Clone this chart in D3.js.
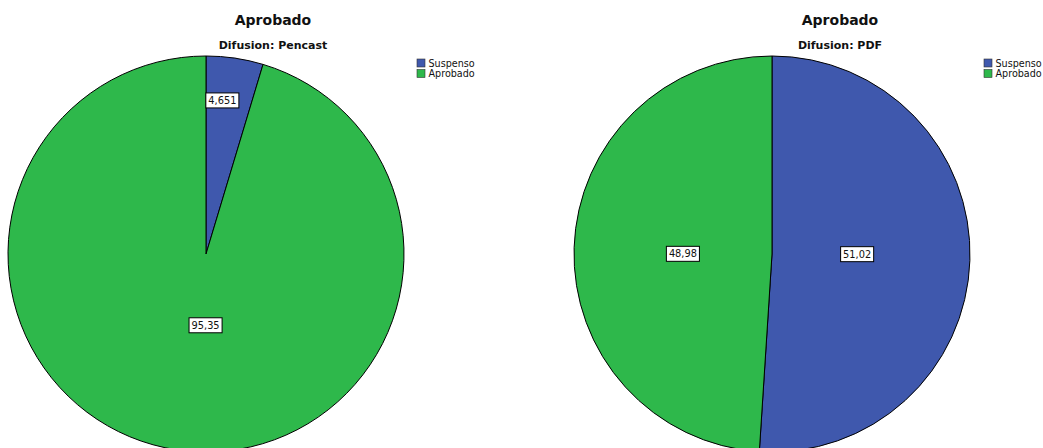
<!DOCTYPE html>
<html lang="es">
<head>
    <meta charset="UTF-8">
    <title>Aprobado por Difusion</title>
    <script src="https://d3js.org/d3.v7.min.js"></script>
    <style>
        body { margin: 0; background: #fff; font-family: "DejaVu Sans", sans-serif; }
    </style>
</head>
<body>
    <svg id="chart"></svg>
    <script>
        const width = 1043, height = 448;

        // data
        const chartTitle = "Aprobado";
        const panels = ["Difusion: Pencast", "Difusion: PDF"];
        const categories = ["Suspenso", "Aprobado"];
        const pencastValues = [4.651, 95.349];
        const pdfValues = [51.02, 48.98];

        const colors = d3.scaleOrdinal().domain(categories).range(["#3f58ad", "#2eb84b"]);

        // layout per panel (not data): label radius fraction + small angle tweak
        const layout = [
            { cx: 206, cy: 254, titleX: 273, legendX: 417, labelR: [0.78, 0.36], labelTurn: [-0.04, -0.14], values: pencastValues },
            { cx: 772, cy: 254, titleX: 840, legendX: 984, labelR: [0.43, 0.45], labelTurn: [-0.03, -0.03], values: pdfValues }
        ];
        const radius = 198;

        const svg = d3.select("#chart").attr("width", width).attr("height", height);
        const pie = d3.pie().sort(null).value(d => d.value);
        const arc = d3.arc().innerRadius(0).outerRadius(radius);
        const fmt = v => d3.format(".4")(v).replace(".", ",");

        panels.forEach((name, i) => {
            const L = layout[i];
            const rows = categories.map((c, j) => ({ cat: c, value: L.values[j] }));

            svg.append("text")
                .attr("x", L.titleX).attr("y", 25)
                .attr("text-anchor", "middle")
                .attr("font-size", 14).attr("font-weight", "bold")
                .attr("fill", "#111")
                .text(chartTitle);
            svg.append("text")
                .attr("x", L.titleX).attr("y", 49)
                .attr("text-anchor", "middle")
                .attr("font-size", 11).attr("font-weight", "bold")
                .attr("fill", "#111")
                .text(name);

            const g = svg.append("g").attr("transform", `translate(${L.cx},${L.cy})`);
            const arcs = pie(rows);

            g.selectAll("path").data(arcs).join("path")
                .attr("d", arc)
                .attr("fill", d => colors(d.data.cat))
                .attr("stroke", "#000")
                .attr("stroke-width", 1);

            const labels = g.selectAll("g.lbl").data(arcs).join("g")
                .attr("class", "lbl")
                .attr("transform", (d, j) => {
                    const a = (d.startAngle + d.endAngle) / 2 + L.labelTurn[j];
                    const r = radius * L.labelR[j];
                    return `translate(${Math.sin(a) * r},${-Math.cos(a) * r})`;
                });
            labels.each(function(d) {
                const sel = d3.select(this);
                const t = sel.append("text")
                    .attr("text-anchor", "middle")
                    .attr("dy", "0.36em")
                    .attr("font-size", 9.8)
                    .attr("fill", "#111")
                    .text(fmt(d.data.value));
                const bb = t.node().getBBox();
                sel.insert("rect", "text")
                    .attr("x", bb.x - 2.5).attr("y", -7.5)
                    .attr("width", bb.width + 5).attr("height", 15)
                    .attr("fill", "#fff")
                    .attr("stroke", "#000")
                    .attr("stroke-width", 1);
            });

            const leg = svg.append("g").attr("transform", `translate(${L.legendX},59)`);
            const items = leg.selectAll("g").data(categories).join("g")
                .attr("transform", (d, j) => `translate(0,${j * 10.5})`);
            items.append("rect")
                .attr("width", 8).attr("height", 8)
                .attr("fill", d => colors(d))
                .attr("stroke", "#333").attr("stroke-width", 0.6);
            items.append("text")
                .attr("x", 11.5).attr("y", 7.8)
                .attr("font-size", 9.6)
                .attr("fill", "#111")
                .text(d => d);
        });
    </script>
</body>
</html>
